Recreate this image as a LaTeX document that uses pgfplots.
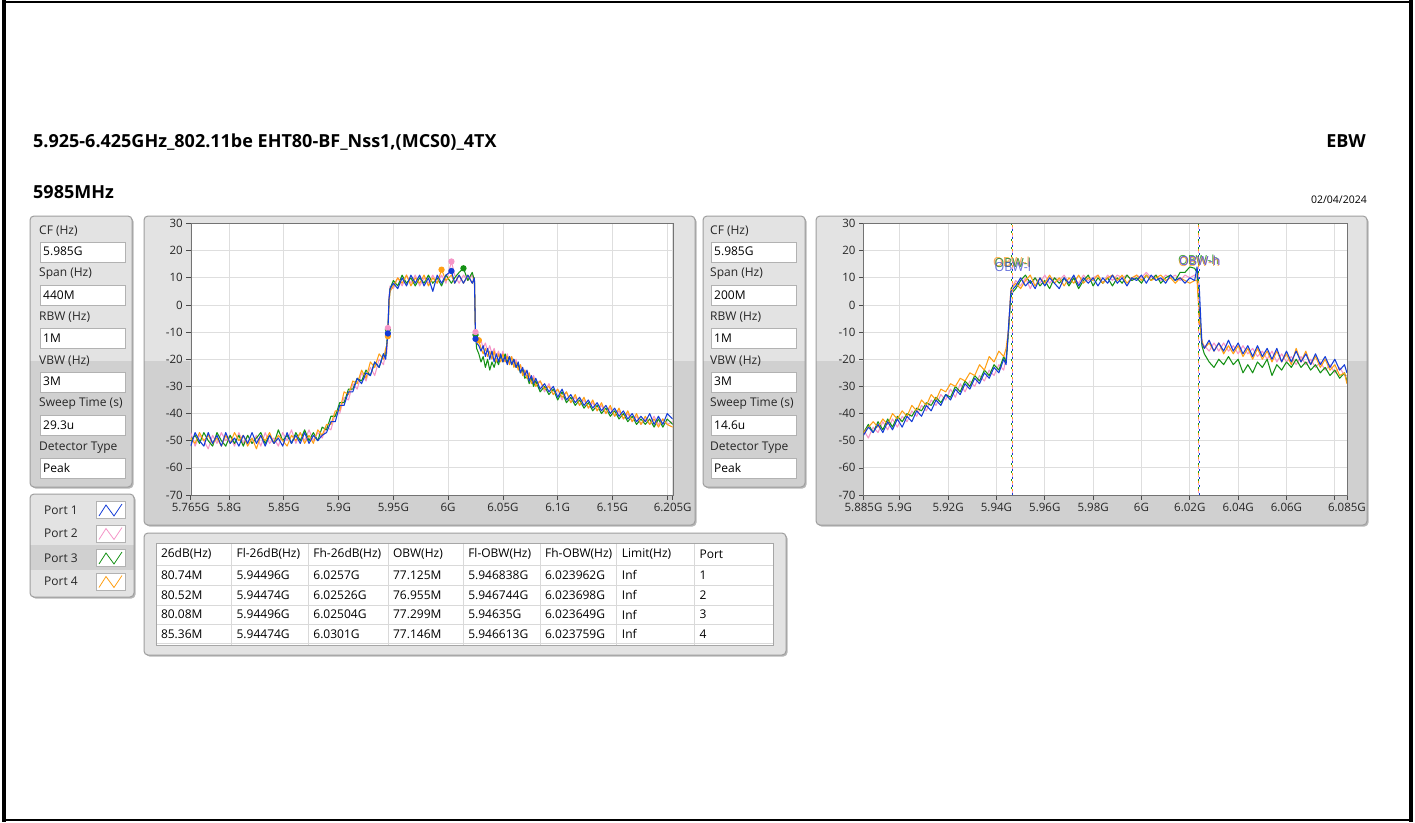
\documentclass[border=0pt]{standalone}
\usepackage{pgfplots}
\pgfplotsset{compat=1.18}
\usepackage{pgfplotstable}
\usepackage{fontspec}
\setmainfont{Open Sans}

\definecolor{cB}{RGB}{20,60,215}
\definecolor{cP}{RGB}{245,150,200}
\definecolor{cG}{RGB}{20,145,20}
\definecolor{cO}{RGB}{255,160,20}
\definecolor{panL}{RGB}{227,227,227}
\definecolor{panD}{RGB}{208,208,208}

\newcommand\fa{\fontsize{12}{14}\selectfont}
\newcommand\ftitle{\fontsize{18}{20}\selectfont\bfseries}

% left chart: frequency (MHz), port1 (blue), port2 (pink), port3 (green), port4 (orange)
\pgfplotstableread{
f b p g o
5765 -52 -47 -50 -49
5769 -47 -52 -48 -51
5773 -50 -48 -51 -47
5777 -52 -50 -47 -50
5781 -47 -53 -50 -48
5785 -51 -48 -52 -51
5789 -48 -51 -47 -49
5793 -52 -47 -50 -52
5797 -47 -50 -52 -48
5801 -51 -48 -48 -51
5805 -49 -52 -51 -47
5809 -52 -47 -48 -50
5813 -48 -51 -52 -48
5817 -51 -48 -48 -52
5821 -47 -51 -51 -49
5825 -51 -48 -49 -53
5829 -48 -52 -47 -48
5833 -52 -47 -51 -50
5837 -48 -51 -48 -47
5841 -51 -49 -51 -51
5845 -49 -52 -46 -48
5849 -52 -47 -50 -50
5853 -47 -50 -48 -52
5857 -51 -46 -51 -48
5861 -48 -51 -47 -50
5865 -51 -47 -50 -47
5869 -47 -50 -46 -51
5873 -51 -46 -50 -48
5877 -48 -50 -47 -51
5881 -50 -47 -50 -46
5885 -48 -49 -45 -48
5889 -47 -45 -46 -44
5893 -43 -46 -41 -44
5897 -43 -40 -41 -39
5901 -37 -40 -36 -39
5905 -37 -34 -36 -32
5909 -32 -35 -31 -33
5913 -32 -29 -31 -28
5917 -27 -31 -27 -29
5921 -29 -25 -28 -24
5925 -25 -28 -24 -27
5929 -26 -23 -26 -21
5933 -21 -26 -21 -23
5937 -23 -20 -23 -18
5941 -18 -22 -18 -20
5943 -20 -17 -19 -16
5944 -15 -18 -14 -15
5945 -10.5 -8.5 -9 -11.5
5946 2 3 1 0
5947 6 7 6 5
5950 8 6 9 7
5954 6 10 7 10
5958 10 7 11 8
5962 7 11 8 11
5966 11 8 10 7
5970 8 11 7 10
5974 11 7 10 8
5978 7 10 8 11
5982 10 8 11 7
5986 5 11 8 10
5990 11 8 10 8
5994 8 11 7 13
5998 11 8 11 9
6003 12.5 16 8 11
6006 8 11 10 8
6010 11 8 12 11
6014 8 11 13.5 8
6018 11 9 9 11
6022 8 11 12 8
6024 10 8 9 10
6025 -12.5 -10 -11 -12
6026 -14 -13 -16 -12.5
6028 -15 -14 -18 -13
6030 -17 -13 -21 -16
6032 -15 -16 -19 -18
6034 -19 -14 -23 -16
6036 -16 -17 -20 -19
6038 -20 -15 -24 -17
6040 -17 -18 -21 -20
6042 -21 -16 -23 -17
6044 -18 -19 -20 -21
6046 -21 -17 -22 -18
6048 -18 -20 -19 -21
6050 -21 -17 -21 -18
6052 -19 -21 -18 -21
6054 -22 -18 -21 -19
6056 -19 -21 -19 -22
6058 -22 -19 -22 -19
6060 -20 -22 -20 -23
6062 -23 -20 -23 -21
6064 -21 -23 -22 -24
6066 -25 -22 -25 -22
6068 -23 -25 -24 -26
6070 -26 -24 -27 -24
6072 -24 -27 -26 -27
6074 -28 -25 -29 -25
6076 -26 -28 -27 -29
6078 -29 -26 -30 -27
6080 -27 -29 -28 -30
6084 -31 -28 -32 -28
6088 -29 -32 -30 -31
6092 -32 -29 -33 -30
6096 -30 -33 -31 -33
6100 -34 -31 -35 -31
6104 -31 -35 -32 -34
6108 -35 -32 -36 -32
6112 -33 -36 -34 -36
6116 -36 -34 -37 -33
6120 -34 -37 -35 -37
6124 -37 -35 -38 -34
6128 -35 -38 -36 -38
6132 -38 -36 -39 -35
6136 -36 -39 -37 -39
6140 -39 -37 -40 -36
6144 -37 -40 -38 -40
6148 -40 -38 -41 -37
6152 -38 -41 -39 -41
6156 -41 -39 -42 -38
6160 -39 -42 -40 -42
6164 -42 -40 -43 -39
6168 -40 -43 -41 -43
6172 -43 -41 -44 -40
6176 -41 -44 -42 -44
6180 -43 -42 -44 -41
6184 -40 -44 -42 -44
6188 -44 -41 -45 -42
6192 -41 -44 -42 -45
6196 -44 -42 -45 -42
6200 -40 -44 -42 -44
6205 -42 -43 -44 -45
}\tabL

% right chart
\pgfplotstableread{
f b p g o
5885 -48 -46 -47 -47
5887 -45 -49 -44 -45
5889 -47 -45 -47 -43
5891 -44 -47 -43 -45
5893 -47 -43 -46 -42
5895 -43 -46 -42 -44
5897 -46 -42 -45 -40
5899 -42 -45 -41 -42
5901 -45 -41 -43 -39
5903 -41 -43 -40 -41
5905 -43 -39 -41 -37
5907 -39 -41 -38 -39
5909 -41 -37 -39 -35
5911 -37 -39 -36 -37
5913 -39 -35 -37 -33
5915 -35 -37 -34 -35
5917 -37 -33 -36 -31
5919 -33 -35 -33 -32
5921 -35 -31 -34 -29
5923 -31 -34 -30 -30
5925 -33 -29 -32 -27
5927 -29 -32 -28 -28
5929 -31 -28 -30 -25
5931 -27 -30 -26 -26
5933 -29 -26 -28 -22
5935 -25 -28 -24 -24
5937 -27 -24 -26 -19
5939 -23 -26 -22 -21
5941 -25 -22 -24 -17
5943 -20 -24 -19 -19
5944 -22 -19 -21 -16
5945 -8 -9 -10 -9
5946 5 6 4 6
5948 7 9 6 8
5950 10 7 9 6
5952 7 10 11 9
5954 9 6 8 11
5956 6 10 10 7
5958 10 8 7 10
5960 7 11 9 8
5962 10 8 6 11
5964 8 10 10 8
5966 6 9 8 10
5968 10 11 10 7
5970 8 8 7 10
5972 11 10 10 8
5974 7 8 6 11
5976 10 11 9 8
5978 8 9 11 10
5980 10 10 7 9
5982 7 11 10 11
5984 10 8 8 8
5986 8 11 10 10
5988 11 9 7 11
5990 8 11 10 9
5992 10 10 8 11
5994 7 11 11 8
5996 10 9 9 10
5998 9 11 10 11
6000 11 10 8 9
6002 8 12 11 11
6004 11 10 9 9
6006 9 11 11 10
6008 10 9 8 11
6010 8 11 10 9
6012 11 10 11 10
6014 9 11 9 8
6016 10 9 12 10
6018 8 11 12 9
6020 10 10 14 8
6022 9 11 13.5 9
6023 14 10 12 9
6024 5 -2 -4 -6
6025 -14 -14 -15 -13
6026 -16 -15 -18 -16
6028 -13 -17 -21 -14
6030 -17 -14 -23 -17
6032 -14 -17 -20 -14
6034 -17 -14 -22 -18
6036 -13 -17 -19 -15
6038 -17 -15 -22 -18
6040 -14 -18 -20 -15
6042 -18 -15 -25 -19
6044 -15 -18 -22 -16
6046 -19 -16 -25 -20
6048 -15 -19 -21 -16
6050 -19 -17 -23 -20
6052 -16 -20 -20 -17
6054 -20 -17 -26 -21
6056 -16 -21 -22 -17
6058 -21 -18 -24 -21
6060 -17 -21 -21 -18
6062 -21 -19 -23 -22
6064 -17 -22 -20 -16
6066 -21 -19 -23 -21
6068 -18 -22 -21 -17
6070 -22 -20 -24 -22
6072 -18 -23 -22 -19
6074 -22 -21 -25 -23
6076 -19 -24 -23 -20
6078 -23 -22 -26 -24
6080 -20 -25 -24 -22
6082 -24 -23 -27 -26
6084 -22 -26 -25 -25
6085 -25 -26 -28 -29
}\tabR

\newcommand{\panel}[6]{%
  \fill[black!28, rounded corners=4pt] ({#1+1.5},{#2+1.5}) rectangle ({#3+1.5},{#4+1.5});
  \begin{scope}
    \clip[rounded corners=4pt] (#1,#2) rectangle (#3,#4);
    \fill[panL] (#1,#2) rectangle (#3,#4);
    \fill[panD] (#1,#5) rectangle (#3,#6);
  \end{scope}
  \draw[black!38, line width=1pt, rounded corners=4pt] (#1,#2) rectangle (#3,#4);
}
\newcommand{\setitem}[4]{%
  \node[anchor=west, inner sep=0, font=\fa, text=black!85] at ({#1-1},{#2-11}) {#3};
  \draw[black!30, fill=white] (#1,#2) rectangle ({#1+85},{#2+20});
  \node[anchor=west, inner sep=0, font=\fa] at ({#1+3},{#2+10}) {#4};
}
\newcommand{\legitem}[3]{%
  \node[font=\fa, text=black!85] at (61,#1) {#2};
  \draw[black!30, fill=white] (96,{#1-8.5}) rectangle (125,{#1+8.5});
  \draw[#3, line width=0.8pt] (99,{#1+6}) -- (106,{#1-5}) -- (114,{#1+6}) -- (122,{#1-6});
}

\pgfplotsset{chart/.style={
  scale only axis, height=271.5pt,
  ymin=-70, ymax=30, ytick={-70,-60,...,30},
  grid=major, grid style={draw=black!13, line width=0.8pt},
  axis line style={draw=black!55},
  tick align=outside, major tick length=4.5pt,
  every tick/.style={draw=black!70, line width=0.7pt},
  xtick pos=left, ytick pos=left,
  tick label style={font=\fontsize{11.5}{13}\selectfont, text=black!85},
  /pgf/number format/assume math mode=true,
  axis background/.style={fill=white},
  every axis plot/.append style={line width=1.05pt, line join=round},
}}

\begin{document}
\begin{tikzpicture}
\begin{scope}[x=1pt,y=-1pt]
\useasboundingbox (0,0) rectangle (1415,822);
\fill[white] (0,0) rectangle (1415,822);
\fill[black] (2,0) rectangle (6,822);
\fill[black] (1409,0) rectangle (1413,822);
\fill[black] (6,0.5) rectangle (1409,2.5);
\fill[black] (6,819) rectangle (1409,821);

\node[anchor=base west, inner sep=0, font=\ftitle] at (33,147) {5.925-6.425GHz\_802.11be EHT80-BF\_Nss1,(MCS0)\_4TX};
\node[anchor=base east, inner sep=0, font=\ftitle] at (1366,147) {EBW};
\node[anchor=base west, inner sep=0, font=\ftitle] at (33,198) {5985MHz};
\node[anchor=base east, inner sep=0, font=\fontsize{10.5}{12}\selectfont] at (1367,203) {02/04/2024};

% panels
\panel{30}{216}{132}{487}{361}{487}
\panel{703}{216}{805}{487}{361}{487}
\panel{144}{216}{695}{525}{361}{525}
\panel{816}{216}{1367}{525}{361}{525}
\panel{30}{494}{134}{597}{545}{570}
\panel{144}{533}{786}{655}{655}{655}

% settings (left)
\setitem{40}{241.7}{CF (Hz)}{5.985G}
\setitem{40}{285}{Span (Hz)}{440M}
\setitem{40}{328.3}{RBW (Hz)}{1M}
\setitem{40}{371.7}{VBW (Hz)}{3M}
\setitem{40}{415}{Sweep Time (s)}{29.3u}
\setitem{40}{458.3}{Detector Type}{Peak}
% settings (middle)
\setitem{711}{241.7}{CF (Hz)}{5.985G}
\setitem{711}{285}{Span (Hz)}{200M}
\setitem{711}{328.3}{RBW (Hz)}{1M}
\setitem{711}{371.7}{VBW (Hz)}{3M}
\setitem{711}{415}{Sweep Time (s)}{14.6u}
\setitem{711}{458.3}{Detector Type}{Peak}

% legend
\legitem{510}{Port 1}{cB}
\legitem{533.5}{Port 2}{cP}
\legitem{558}{Port 3}{cG}
\legitem{581.5}{Port 4}{cO}

% table
\fill[white] (155.8,542.7) rectangle (773.3,645);
\foreach \yy in {565,585,605,624.5,643.5} \draw[black!15, line width=0.8pt] (155.8,\yy) -- (773.3,\yy);
\foreach \xx in {231.4,308.2,387.9,463.1,539.9,616.7,694.4} \draw[black!15, line width=0.8pt] (\xx,542.7) -- (\xx,645);
\draw[black!35] (155.8,542.7) rectangle (773.3,645);
\foreach \xx/\t in {155.8/26dB(Hz),231.4/Fl-26dB(Hz),308.2/Fh-26dB(Hz),387.9/OBW(Hz),463.1/Fl-OBW(Hz),539.9/Fh-OBW(Hz),616.7/Limit(Hz),694.4/Port}
  \node[anchor=west, inner sep=0, font=\fa] at (\xx+5,554) {\t};
\foreach \yy/\a/\b/\c/\d/\e/\f/\g in {
  575/80.74M/5.94496G/6.0257G/77.125M/5.946838G/6.023962G/1,
  595/80.52M/5.94474G/6.02526G/76.955M/5.946744G/6.023698G/2,
  614.5/80.08M/5.94496G/6.02504G/77.299M/5.94635G/6.023649G/3,
  634/85.36M/5.94474G/6.0301G/77.146M/5.946613G/6.023759G/4}{
  \node[anchor=west, inner sep=0, font=\fa] at (160.8,\yy) {\a};
  \node[anchor=west, inner sep=0, font=\fa] at (236.4,\yy) {\b};
  \node[anchor=west, inner sep=0, font=\fa] at (313.2,\yy) {\c};
  \node[anchor=west, inner sep=0, font=\fa] at (392.9,\yy) {\d};
  \node[anchor=west, inner sep=0, font=\fa] at (468.1,\yy) {\e};
  \node[anchor=west, inner sep=0, font=\fa] at (544.9,\yy) {\f};
  \node[anchor=west, inner sep=0, font=\fa] at (621.7,\yy) {Inf};
  \node[anchor=west, inner sep=0, font=\fa] at (699.4,\yy) {\g};
}
\end{scope}

% left chart
\begin{axis}[chart, at={(190.7pt,-495pt)}, anchor=south west, width=482pt,
  xmin=5765, xmax=6205,
  xtick={5765,5800,5850,5900,5950,6000,6050,6100,6150,6200,6205},
  xticklabels={5.765G,5.8G,5.85G,5.9G,5.95G,6G,6.05G,6.1G,6.15G,,6.205G}]
\addplot[cP] table[x=f,y=p]{\tabL};
\addplot[cG] table[x=f,y=g]{\tabL};
\addplot[cO] table[x=f,y=o]{\tabL};
\addplot[cB] table[x=f,y=b]{\tabL};
\addplot[only marks, mark=*, mark size=2.6pt, cO] coordinates {(5945,-11.5) (5994,13) (6028,-13)};
\addplot[only marks, mark=*, mark size=2.6pt, cG] coordinates {(5945,-9) (6014,13.5) (6025,-11)};
\addplot[only marks, mark=*, mark size=2.6pt, cP] coordinates {(5945,-8.5) (6003,16) (6025,-10)};
\addplot[only marks, mark=*, mark size=2.6pt, cB] coordinates {(5945,-10.5) (6003,12.5) (6025,-12.5)};
\end{axis}

% right chart
\begin{axis}[chart, at={(863.5pt,-495pt)}, anchor=south west, width=483.4pt,
  xmin=5885, xmax=6085,
  xtick={5885,5900,5920,5940,5960,5980,6000,6020,6040,6060,6080,6085},
  xticklabels={5.885G,5.9G,5.92G,5.94G,5.96G,5.98G,6G,6.02G,6.04G,6.06G,,6.085G}]
\addplot[cP] table[x=f,y=p]{\tabR};
\addplot[cG] table[x=f,y=g]{\tabR};
\addplot[cO] table[x=f,y=o]{\tabR};
\addplot[cB] table[x=f,y=b]{\tabR};
\addplot[cP, line width=1pt, dash pattern=on 2pt off 6pt, dash phase=6pt] coordinates {(5946.744,-70) (5946.744,30)};
\addplot[cO, line width=1pt, dash pattern=on 2pt off 6pt, dash phase=4pt] coordinates {(5946.613,-70) (5946.613,30)};
\addplot[cG, line width=1pt, dash pattern=on 2pt off 6pt, dash phase=2pt] coordinates {(5946.35,-70) (5946.35,30)};
\addplot[cB, line width=1pt, dash pattern=on 2pt off 6pt] coordinates {(5946.838,-70) (5946.838,30)};
\addplot[cP, line width=1pt, dash pattern=on 2pt off 6pt, dash phase=6pt] coordinates {(6023.698,-70) (6023.698,30)};
\addplot[cO, line width=1pt, dash pattern=on 2pt off 6pt, dash phase=4pt] coordinates {(6023.759,-70) (6023.759,30)};
\addplot[cG, line width=1pt, dash pattern=on 2pt off 6pt, dash phase=2pt] coordinates {(6023.649,-70) (6023.649,30)};
\addplot[cB, line width=1pt, dash pattern=on 2pt off 6pt] coordinates {(6023.962,-70) (6023.962,30)};
\node[text=cO, font=\fontsize{12.5}{14}\selectfont, opacity=0.8] at (axis cs:5946.2,15.9) {OBW-l};
\node[text=cP, font=\fontsize{12.5}{14}\selectfont, opacity=0.8] at (axis cs:5946.5,15.4) {OBW-l};
\node[text=cG, font=\fontsize{12.5}{14}\selectfont, opacity=0.8] at (axis cs:5946.8,15.6) {OBW-l};
\node[text=cB!80!cP, font=\fontsize{12.5}{14}\selectfont, opacity=0.8] at (axis cs:5946.8,13.9) {OBW-l};
\node[text=cG, font=\fontsize{12.5}{14}\selectfont, opacity=0.8] at (axis cs:6023.6,16.6) {OBW-h};
\node[text=cO, font=\fontsize{12.5}{14}\selectfont, opacity=0.8] at (axis cs:6023.9,16.0) {OBW-h};
\node[text=cP, font=\fontsize{12.5}{14}\selectfont, opacity=0.8] at (axis cs:6024.1,16.3) {OBW-h};
\node[text=cB!80!cP, font=\fontsize{12.5}{14}\selectfont, opacity=0.8] at (axis cs:6024.2,16.1) {OBW-h};
\end{axis}
\end{tikzpicture}
\end{document}
